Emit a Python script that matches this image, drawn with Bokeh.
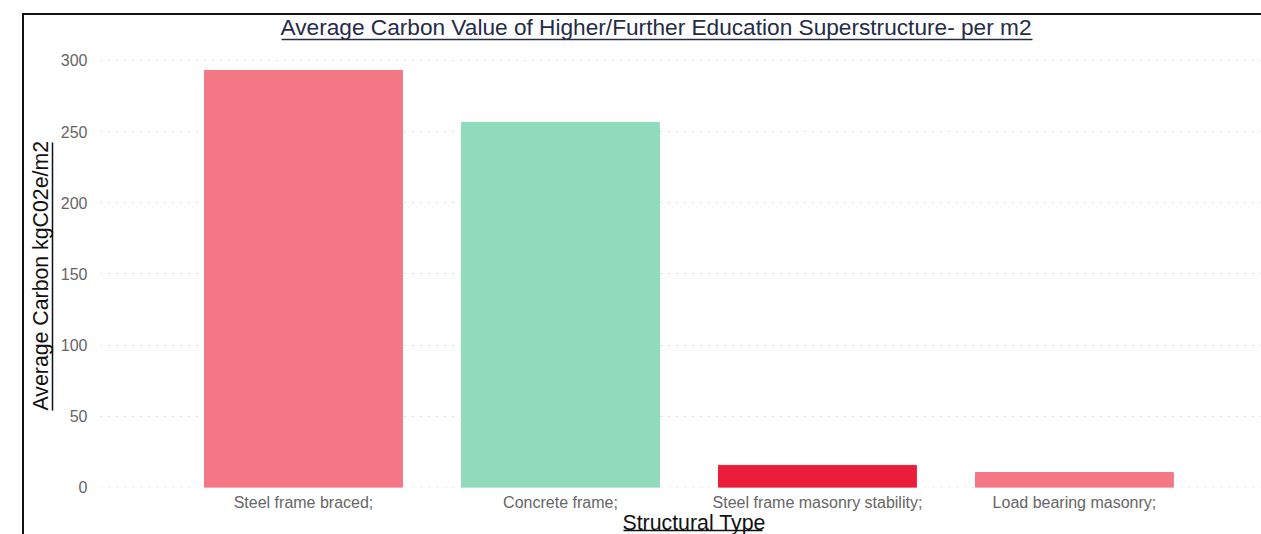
from bokeh.plotting import figure
from bokeh.models import (ColumnDataSource, Range1d, FixedTicker, SingleIntervalTicker,
                          LinearAxis, Title, ColorBar, LinearColorMapper)
from bokeh.embed import file_html
from bokeh.resources import INLINE

# Average superstructure carbon per structural type (kgCO2e/m2)
categories = ["Steel frame braced;", "Concrete frame;",
              "Steel frame masonry stability;", "Load bearing masonry;"]
avg_carbon = [293, 256.5, 15.5, 10.5]
bar_colors = ["#F47786", "#8FDBBC", "#EB1E39", "#F47786"]

title_text = "Average Carbon Value of Higher/Further Education Superstructure- per m2"
x_title = "Structural Type"
y_title = "Average Carbon kgC02e/m2"

positions = list(range(len(categories)))
source = ColumnDataSource(dict(x=positions, top=avg_carbon, color=bar_colors))

FONT = "Liberation Sans"
TITLE_COLOR = "#252B48"
LABEL_COLOR = "#111111"
EDGE = "#111111"

p = figure(width=1239, height=534, output_backend="svg", toolbar_location=None,
           title=None, x_range=Range1d(-0.79, 3.728), y_range=Range1d(-0.01, 314.75),
           min_border_left=78, min_border_top=39, min_border_bottom=47,
           min_border_right=0, outline_line_color=None, border_fill_alpha=0)
p.margin = (0, 0, 0, 22)
# visual container edges (top and left)
p.styles = {
    "background-image": f"linear-gradient({EDGE}, {EDGE}), linear-gradient({EDGE}, {EDGE})",
    "background-size": "100% 2px, 2px 100%",
    "background-position": "0 13px, 0 13px",
    "background-repeat": "no-repeat",
}

p.vbar(x="x", bottom=0, top="top", width=0.77, color="color", source=source)

# main axes: tick labels only
xaxis = p.xaxis[0]
yaxis = p.yaxis[0]
xaxis.ticker = FixedTicker(ticks=positions)
xaxis.major_label_overrides = {i: c for i, c in enumerate(categories)}
yaxis.ticker = SingleIntervalTicker(interval=50)
for ax in (xaxis, yaxis):
    ax.axis_line_color = None
    ax.major_tick_line_color = None
    ax.minor_tick_line_color = None
    ax.major_tick_out = 0
    ax.major_tick_in = 0
    ax.major_label_text_font = FONT
    ax.major_label_text_font_size = "16px"
    ax.major_label_text_color = "#666666"
xaxis.major_label_standoff = 6
yaxis.major_label_standoff = 9


def rule_axis(bounds, color):
    """An axis that draws only its (bounded) line, used as a text underline."""
    return LinearAxis(ticker=FixedTicker(ticks=[]), bounds=bounds,
                      axis_line_color=color, axis_line_width=1.5,
                      major_tick_out=0, major_tick_in=0, minor_tick_out=0,
                      minor_tick_in=0, major_label_standoff=0)


# empty band between the y tick labels and the y title underline
gap = ColorBar(color_mapper=LinearColorMapper(palette=["#ffffff"], low=0, high=1),
               width=5, padding=0, margin=0, label_standoff=0,
               ticker=FixedTicker(ticks=[]), major_tick_line_color=None,
               minor_tick_line_color=None, major_tick_out=0, bar_line_color=None,
               border_line_color=None, background_fill_alpha=0, scale_alpha=0)
p.add_layout(gap, "left")

# y title with its underline
p.add_layout(rule_axis((54.1, 242.4), LABEL_COLOR), "left")
p.add_layout(Title(text=y_title, align="left", offset=77, standoff=0,
                   text_font=FONT, text_font_size="21.3px",
                   text_font_style="normal", text_color=LABEL_COLOR), "left")

# x title below the tick labels, then its underline
p.add_layout(Title(text=x_title, align="left", offset=522, standoff=-9,
                   text_font=FONT, text_font_size="21.3px",
                   text_font_style="normal", text_color=LABEL_COLOR), "below")
p.add_layout(rule_axis((1.245, 1.786), LABEL_COLOR), "below")

# underline below the chart title, then the title itself
p.add_layout(rule_axis((-0.0857, 2.8365), TITLE_COLOR), "above")
p.add_layout(Title(text=title_text, align="left", offset=180, standoff=0,
                   text_font=FONT, text_font_size="22.67px",
                   text_font_style="normal", text_color=TITLE_COLOR), "above")

# dotted horizontal gridlines only
p.xgrid.grid_line_color = None
p.ygrid.bounds = (0, 300)
p.ygrid.grid_line_color = "#B4B4B4"
p.ygrid.grid_line_dash = "1 7"
p.ygrid.grid_line_width = 1.2

open("out.html", "w").write(file_html(p, INLINE))
